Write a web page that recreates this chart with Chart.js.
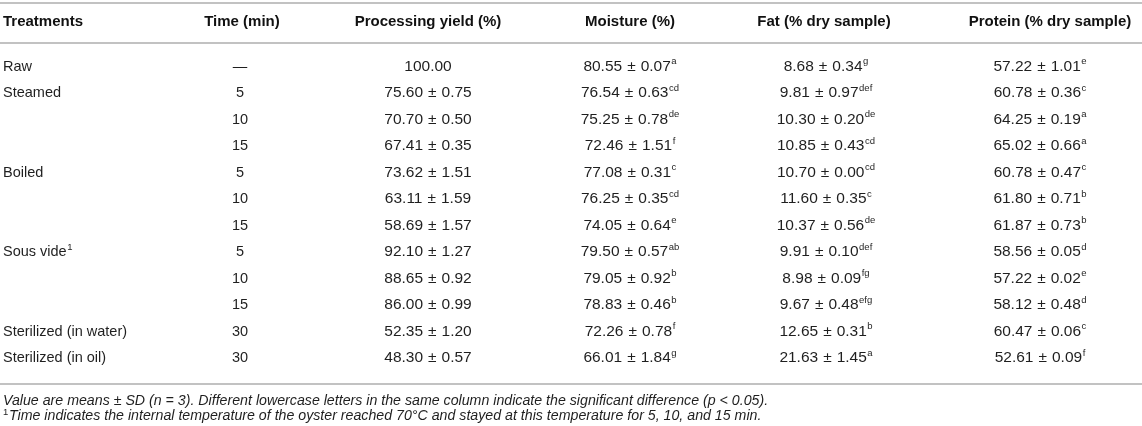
<!DOCTYPE html>
<html>
<head>
<meta charset="utf-8">
<title>Oyster processing table</title>
<script src="https://cdn.jsdelivr.net/npm/chart.js@4.4.1/dist/chart.umd.min.js"></script>
<style>
  html, body { margin: 0; padding: 0; background: #fff; }
  #wrap { width: 1142px; height: 426px; position: relative; }
</style>
</head>
<body>
<div id="wrap"><canvas id="tbl"></canvas></div>
<script>
// DATA
const headers = ["Treatments", "Time (min)", "Processing yield (%)", "Moisture (%)", "Fat (% dry sample)", "Protein (% dry sample)"];
const treatments = ["Raw", "Steamed", "", "", "Boiled", "", "", "Sous vide", "", "", "Sterilized (in water)", "Sterilized (in oil)"];
const treatmentNotes = ["", "", "", "", "", "", "", "1", "", "", "", ""];
const times = ["—", "5", "10", "15", "5", "10", "15", "5", "10", "15", "30", "30"];
const yieldMean = [100.00, 75.60, 70.70, 67.41, 73.62, 63.11, 58.69, 92.10, 88.65, 86.00, 52.35, 48.30];
const yieldSd = [null, 0.75, 0.50, 0.35, 1.51, 1.59, 1.57, 1.27, 0.92, 0.99, 1.20, 0.57];
const moistureMean = [80.55, 76.54, 75.25, 72.46, 77.08, 76.25, 74.05, 79.50, 79.05, 78.83, 72.26, 66.01];
const moistureSd = [0.07, 0.63, 0.78, 1.51, 0.31, 0.35, 0.64, 0.57, 0.92, 0.46, 0.78, 1.84];
const moistureSig = ["a", "cd", "de", "f", "c", "cd", "e", "ab", "b", "b", "f", "g"];
const fatMean = [8.68, 9.81, 10.30, 10.85, 10.70, 11.60, 10.37, 9.91, 8.98, 9.67, 12.65, 21.63];
const fatSd = [0.34, 0.97, 0.20, 0.43, 0.00, 0.35, 0.56, 0.10, 0.09, 0.48, 0.31, 1.45];
const fatSig = ["g", "def", "de", "cd", "cd", "c", "de", "def", "fg", "efg", "b", "a"];
const proteinMean = [57.22, 60.78, 64.25, 65.02, 60.78, 61.80, 61.87, 58.56, 57.22, 58.12, 60.47, 52.61];
const proteinSd = [1.01, 0.36, 0.19, 0.66, 0.47, 0.71, 0.73, 0.05, 0.02, 0.48, 0.06, 0.09];
const proteinSig = ["e", "c", "a", "a", "c", "b", "b", "d", "e", "d", "c", "f"];
const footnote1 = "Value are means ± SD (n = 3). Different lowercase letters in the same column indicate the significant difference (p < 0.05).";
const footnote2 = "Time indicates the internal temperature of the oyster reached 70°C and stayed at this temperature for 5, 10, and 15 min.";

// LAYOUT (pixels)
const W = 1142, H = 426;
const ROW0 = 66.5, ROW_STEP = 26.5;
const HEADER_Y = 22;
const RULES_Y = [3, 43, 384];
const FOOT_Y = [401, 416];
const FONT = '"Liberation Sans", Arial, sans-serif';
const TEXT = "#1f1f1f";
const RULE = "#c2c2c2";
const PM_GAP = 5;   // space either side of ±

// one entry per column: header position, value position, how to build a cell
const columns = [
  { hx: 3, x: 3, align: "left", size: 14.5, cell: i => [[treatments[i]], treatmentNotes[i]] },
  { hx: 242, x: 240, align: "center", size: 14.5, cell: i => [[times[i]], ""] },
  { hx: 428, x: 428, align: "center", size: 15.5, cell: i => [pm(yieldMean[i], yieldSd[i]), ""] },
  { hx: 630, x: 630, align: "center", size: 15.5, cell: i => [pm(moistureMean[i], moistureSd[i]), moistureSig[i]] },
  { hx: 824, x: 826, align: "center", size: 15.5, cell: i => [pm(fatMean[i], fatSd[i]), fatSig[i]] },
  { hx: 1050, x: 1040, align: "center", size: 15.5, cell: i => [pm(proteinMean[i], proteinSd[i]), proteinSig[i]] }
];

function pm(m, s) {
  return s === null ? [m.toFixed(2)] : [m.toFixed(2), "±", s.toFixed(2)];
}

function drawCell(ctx, parts, sup, x, y, align, size) {
  const font = size + "px " + FONT;
  const supFont = "9.5px " + FONT;
  ctx.font = font;
  const widths = parts.map(p => ctx.measureText(p).width);
  const w1 = widths.reduce((a, b) => a + b, 0) + PM_GAP * (parts.length - 1);
  ctx.font = supFont;
  const w2 = sup ? ctx.measureText(sup).width + 0.5 : 0;
  let cx = align === "left" ? x : x - (w1 + w2) / 2;
  ctx.font = font;
  parts.forEach((p, k) => {
    ctx.fillText(p, cx, y);
    cx += widths[k] + PM_GAP;
  });
  cx -= PM_GAP;
  if (sup) {
    ctx.font = supFont;
    ctx.fillText(sup, cx + 0.5, y - 5);
  }
}

const tablePlugin = {
  id: "tableText",
  afterDatasetsDraw(chart) {
    const ctx = chart.ctx;
    ctx.save();
    ctx.strokeStyle = RULE;
    ctx.lineWidth = 2;
    RULES_Y.forEach(y => {
      ctx.beginPath(); ctx.moveTo(0, y); ctx.lineTo(W, y); ctx.stroke();
    });

    ctx.fillStyle = "#111";
    ctx.textBaseline = "middle";
    ctx.font = "bold 15px " + FONT;
    headers.forEach((h, c) => {
      ctx.textAlign = columns[c].align;
      ctx.fillText(h, columns[c].hx, HEADER_Y);
    });

    ctx.textAlign = "left";
    ctx.fillStyle = TEXT;
    chart.data.datasets.forEach((ds, c) => {
      const meta = chart.getDatasetMeta(c);
      meta.data.forEach((pt, i) => {
        const [parts, sup] = columns[c].cell(i);
        drawCell(ctx, parts, sup, pt.x, pt.y, columns[c].align, columns[c].size);
      });
    });

    // footnotes
    ctx.font = "italic 14.2px " + FONT;
    ctx.fillText(footnote1, 3, FOOT_Y[0]);
    ctx.font = "9.5px " + FONT;
    ctx.fillText("1", 3, FOOT_Y[1] - 4);
    ctx.font = "italic 14.2px " + FONT;
    ctx.fillText(footnote2, 9, FOOT_Y[1]);
    ctx.restore();
  }
};

const yMin = -ROW0 / ROW_STEP;
const yMax = yMin + H / ROW_STEP;

new Chart(document.getElementById("tbl"), {
  type: "scatter",
  data: {
    datasets: columns.map((col, c) => ({
      label: headers[c],
      data: times.map((_, i) => ({ x: col.x, y: i })),
      pointRadius: 0
    }))
  },
  options: {
    responsive: true,
    maintainAspectRatio: false,
    animation: false,
    events: [],
    layout: { padding: 0 },
    plugins: { legend: { display: false }, tooltip: { enabled: false } },
    scales: {
      x: { type: "linear", min: 0, max: W, display: false },
      y: { type: "linear", reverse: true, min: yMin, max: yMax, display: false }
    }
  },
  plugins: [tablePlugin]
});
</script>
</body>
</html>
